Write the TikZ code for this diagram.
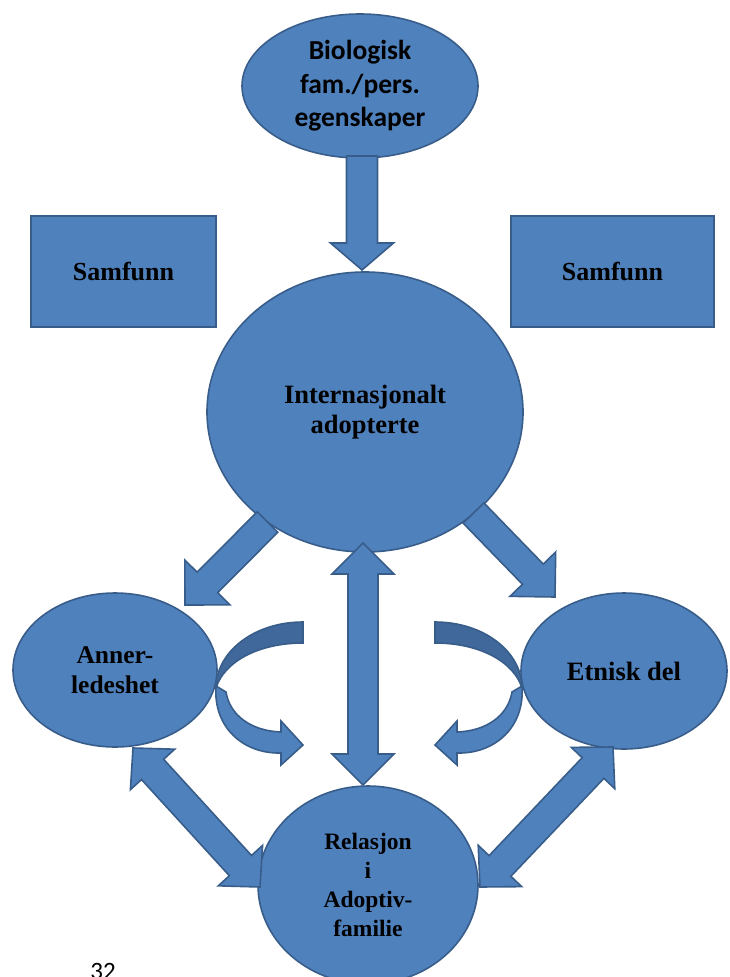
\documentclass[tikz,border=0pt]{standalone}
\usepackage{fontspec}
\setmainfont{Liberation Serif}
\newfontfamily\calibri{Carlito}
\usetikzlibrary{shapes.geometric,calc}
\definecolor{bfill}{HTML}{4F81BD}
\definecolor{bline}{HTML}{385D8A}
\definecolor{bdark}{HTML}{41689A}
\tikzset{
  shp/.style={fill=bfill, draw=bline, line width=1.6pt, inner sep=0pt, align=center, text=black},
  oval/.style={shp, ellipse},
  boxnode/.style={shp, rectangle},
  blk/.style={fill=bfill, draw=bline, line width=1.6pt, line join=miter},
  tnr/.style={font=\bfseries\fontsize{#1}{30}\selectfont},
}
\newcommand\blockarrow[5]{%
  \path (#1) coordinate (ba) (#2) coordinate (bt);
  \path ($(bt)!#5!(ba)$) coordinate (bh);
  \draw[blk] ($(ba)!#3!90:(bt)$) -- ($(bh)!#3!90:(bt)$) -- ($(bh)!#4!90:(bt)$) -- (bt)
    -- ($(bh)!#4!-90:(bt)$) -- ($(bh)!#3!-90:(bt)$) -- ($(ba)!#3!-90:(bt)$) -- cycle;
}
\newcommand\dblarrow[5]{%
  \path (#1) coordinate (ba) (#2) coordinate (bt);
  \path ($(ba)!#5!(bt)$) coordinate (ha) ($(bt)!#5!(ba)$) coordinate (hb);
  \draw[blk] (ba) -- ($(ha)!#4!90:(bt)$) -- ($(ha)!#3!90:(bt)$) -- ($(hb)!#3!90:(bt)$)
    -- ($(hb)!#4!90:(bt)$) -- (bt) -- ($(hb)!#4!-90:(bt)$) -- ($(hb)!#3!-90:(bt)$)
    -- ($(ha)!#3!-90:(bt)$) -- ($(ha)!#4!-90:(bt)$) -- cycle;
}
\newcommand\curlarrow{%
  \draw[blk, fill=bdark] (303,622) .. controls (254,622) and (216,652) .. (216,688)
    .. controls (224,662) and (258,643) .. (303,643) -- cycle;
  \draw[blk] (216,686) .. controls (213,728) and (244,754) .. (281,753) -- (281,765)
    -- (303,745) -- (281,721) -- (281,732) .. controls (252,731) and (230,716) .. (226,692) -- cycle;
}
\begin{document}
\begin{tikzpicture}[x=1pt, y=-1pt]
\useasboundingbox (0,0) rectangle (730,977);
\clip (0,0) rectangle (730,977);
% nodes
\node[oval, minimum width=236pt, minimum height=144pt,
      font=\calibri\bfseries\fontsize{27.5}{33.5}\selectfont] (bio) at (360,86) {Biologisk\\fam./pers.\\egenskaper};
\node[boxnode, minimum width=185pt, minimum height=111pt, tnr=26] (samL) at (123.5,271.5) {Samfunn};
\node[boxnode, minimum width=203pt, minimum height=111pt, tnr=26] (samR) at (612.5,271.5) {Samfunn};
\node[oval, minimum width=316pt, minimum height=280pt, tnr=26.5] (int) at (365,412) {Internasjonalt\\adopterte};
\node[oval, minimum width=204pt, minimum height=154pt, tnr=25.5] (ann) at (115,670) {Anner-\\ledeshet};
\node[oval, minimum width=206pt, minimum height=156pt, tnr=26.5] (etn) at (624,671) {Etnisk del};
\node[oval, minimum width=220pt, minimum height=198pt,
      font=\bfseries\fontsize{23.5}{29}\selectfont] (rel) at (368,885) {Relasjon\\i\\Adoptiv-\\familie};
\node[font=\calibri\fontsize{25}{30}\selectfont, anchor=base, inner sep=0pt] (pg) at (103,979) {32};
% connector ends
\coordinate (topS) at (362,156);
\coordinate (topE) at (362,270);
\coordinate (midS) at (363,543);
\coordinate (midE) at (363,785);
\coordinate (dlS) at (267.5,522);
\coordinate (dlE) at (185,605);
\coordinate (drS) at (473.5,513);
\coordinate (drE) at (555,597);
\coordinate (blS) at (133,748);
\coordinate (blE) at (260,887);
\coordinate (brS) at (613,747);
\coordinate (brE) at (480,887);
% block arrows
\blockarrow{topS}{topE}{15.5pt}{31.5pt}{27pt}
\blockarrow{dlS}{dlE}{14.5pt}{31.8pt}{31.8pt}
\blockarrow{drS}{drE}{14.5pt}{31.8pt}{31.8pt}
\dblarrow{midS}{midE}{15pt}{31pt}{31pt}
\dblarrow{blS}{blE}{15pt}{30pt}{29pt}
\dblarrow{brS}{brE}{15pt}{30pt}{29pt}
% curved arrows
\curlarrow
\begin{scope}[shift={(738,0)}, xscale=-1]
\curlarrow
\end{scope}
\end{tikzpicture}
\end{document}
